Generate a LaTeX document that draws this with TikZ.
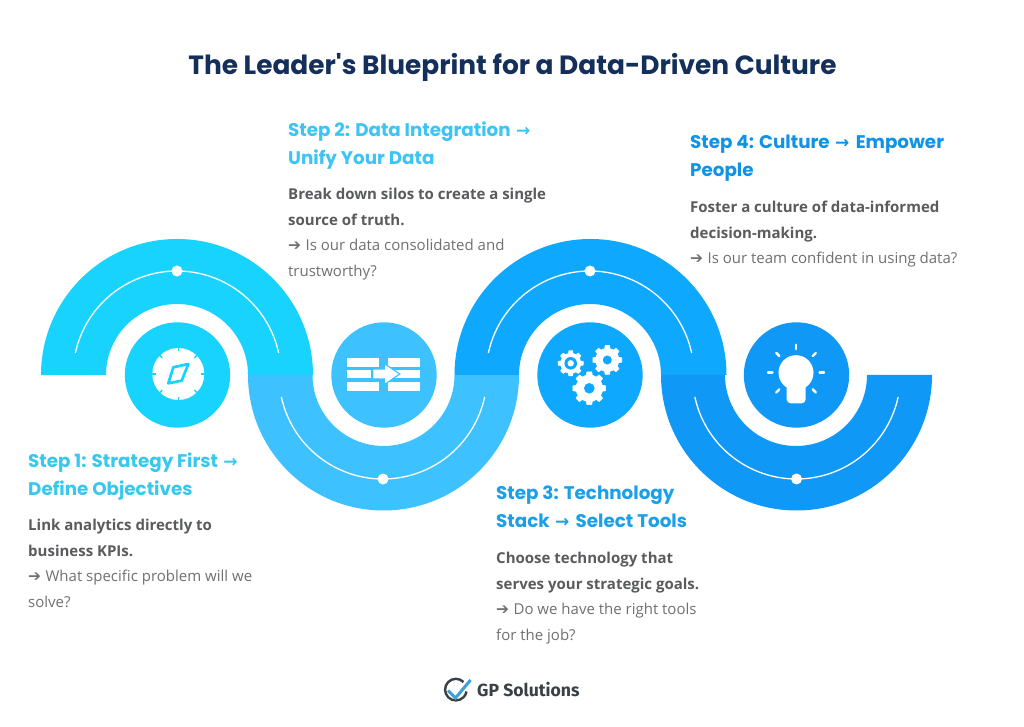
\documentclass[tikz,border=0pt]{standalone}
\usepackage{fontspec}
\setmainfont{Open Sans}
\newfontfamily\pop{Poppins}
\newfontfamily\djv{DejaVu Sans}
\newfontfamily\fira{Fira Sans}
\definecolor{cA}{HTML}{19D3FF}
\definecolor{cB}{HTML}{3DC2FF}
\definecolor{cC}{HTML}{0FA8FF}
\definecolor{cD}{HTML}{1098F7}
\definecolor{tA}{HTML}{38C8EE}
\definecolor{tB}{HTML}{3CC4F6}
\definecolor{tC}{HTML}{1A9FE8}
\definecolor{tD}{HTML}{0F93E6}
\definecolor{navy}{HTML}{14305A}
\definecolor{bodyb}{HTML}{5A5B5E}
\definecolor{bodyr}{HTML}{707072}
\definecolor{logod}{HTML}{3A4046}
\definecolor{logob}{HTML}{3F9FD8}
\newcommand{\tarrow}{\hspace{1.5pt}{\djv\fontsize{17}{15}\selectfont →}\hspace{2.5pt}}
\newcommand{\barrow}{{\djv\fontsize{15.5}{12}\selectfont ➔}\hspace{0.5pt}}
\newcommand{\gearshape}[3]{% x,y,outer radius
  \fill[white] (#1,#2) circle[radius=0.8*#3];
  \foreach \a in {0,45,...,315}{
    \fill[white,draw=white,line width=0.7pt,line join=round,shift={(#1,#2)},rotate=\a] (-0.2*#3,0.6*#3) -- (0.2*#3,0.6*#3) -- (0.14*#3,0.96*#3) -- (-0.14*#3,0.96*#3) -- cycle;
  }
}
\tikzset{
  x=1pt,y=1pt,
  steptitle/.style={anchor=north west,align=left,inner sep=0pt,font=\pop\bfseries\fontsize{18.3}{28}\selectfont},
  stepbody/.style={anchor=north west,align=left,inner sep=0pt,font=\fontsize{15}{25.5}\selectfont,text=bodyr},
  guide/.style={white,line width=1.3pt},
  dot/.style={fill=white},
}
\begin{document}
\begin{tikzpicture}
\useasboundingbox (0,0) rectangle (1024,727);
\fill[white] (0,0) rectangle (1024,727);
% ribbon
\fill[cA] (41,352) arc[start angle=180,end angle=0,radius=136] -- (248,352) arc[start angle=0,end angle=180,radius=71] -- cycle;
\fill[cB] (248,352) arc[start angle=180,end angle=360,radius=135.5] -- (454.5,352) arc[start angle=360,end angle=180,radius=71] -- cycle;
\fill[cC] (454.5,352) arc[start angle=180,end angle=0,radius=136] -- (661,352) arc[start angle=0,end angle=180,radius=71] -- cycle;
\fill[cD] (661,352) arc[start angle=180,end angle=360,radius=135.5] -- (867,352) arc[start angle=360,end angle=180,radius=71] -- cycle;
% guides
\draw[guide] (177,352) ++(167.8:104) arc[start angle=167.8,end angle=12.2,radius=104];
\draw[guide] (383,352) ++(192.2:104) arc[start angle=192.2,end angle=347.8,radius=104];
\draw[guide] (590,352) ++(167.8:104) arc[start angle=167.8,end angle=12.2,radius=104];
\draw[guide] (796.5,352) ++(192.2:104) arc[start angle=192.2,end angle=347.8,radius=104];
\fill[dot] (177,456) circle[radius=5.5];
\fill[dot] (383,248) circle[radius=5.5];
\fill[dot] (590,456) circle[radius=5.5];
\fill[dot] (796.5,248) circle[radius=5.5];
% discs
\fill[cA] (177.5,352) circle[radius=52.7];
\fill[cB] (384,352) circle[radius=52.7];
\fill[cC] (590,352) circle[radius=52.7];
\fill[cD] (796.5,352) circle[radius=52.7];
% icons, in the picture's pixel coordinates
\begin{scope}[shift={(0,727)},yscale=-1]
  % compass
  \fill[white] (178.3,374) circle[radius=26];
  \foreach \a in {0,45,...,315}{
    \draw[cA,line width=1.4pt] (178.3,374) ++(\a:22.7) -- ++(\a:4);
  }
  \draw[cA,line width=2.7pt,line join=round] (173.3,367.3) -- (188.3,364) -- (181.7,380.7) -- (168.3,383.3) -- cycle;
  % data merge
  \fill[white] (347.3,357.7) rectangle (379,366.7);
  \fill[white] (347.3,369.7) rectangle (370.7,378.3);
  \fill[white] (347.3,381.7) rectangle (379,390.7);
  \fill[white] (388.3,357.7) rectangle (420,366.7);
  \fill[white] (390,369.7) rectangle (420,378.3);
  \fill[white] (388.3,381.7) rectangle (420,390.7);
  \draw[cB,line width=2.6pt,line join=miter] (385,365) -- (398.5,374) -- (385,383.3);
  \fill[white] (373.3,369.7) -- (385,369.7) -- (385,365) -- (398.5,374) -- (385,383.3) -- (385,378.3) -- (373.3,378.3) -- cycle;
  % gears
  \gearshape{570.7}{363.3}{13}
  \fill[cC] (570.7,363.3) circle[radius=6.3];
  \fill[white] (570.7,363.3) circle[radius=3.2];
  \gearshape{607.3}{360}{15}
  \fill[cC] (607.3,360) circle[radius=4.5];
  \gearshape{589.3}{388.3}{17}
  \fill[cC] (589.3,388.3) circle[radius=5.3];
  % bulb
  \fill[white] (796,372.7) circle[radius=17.5];
  \fill[white,rounded corners=4pt] (786.7,380) rectangle (805.7,403.3);
  \foreach \a in {0,45,135,180,225,270,315}{
    \draw[white,line width=2.4pt,line cap=round] (796,372.7) ++(\a:23.5) -- ++(\a:4.5);
  }
  % logo
  \draw[logod,line width=2.4pt] (463.5,682) arc[start angle=-45,end angle=-350,radius=10.8];
  \draw[logob,line width=3pt,line join=miter] (448,690.5) -- (455.5,698) -- (470.5,680);
\end{scope}
% texts
\node[anchor=base,inner sep=0pt,text=navy,font=\pop\bfseries\fontsize{26.4}{30}\selectfont] (title) at (512.5,652) {The Leader's Blueprint for a Data-Driven Culture};
\node[steptitle,text=tA] (t1) at (28,274) {Step 1: Strategy First \tarrow\\Define Objectives};
\node[stepbody] (b1) at (28,208) {\textcolor{bodyb}{\bfseries Link analytics directly to}\\\textcolor{bodyb}{\bfseries business KPIs.}\\\barrow{} What specific problem will we\\solve?};
\node[steptitle,text=tB] (t2) at (288,605) {Step 2: Data Integration \tarrow\\Unify Your Data};
\node[stepbody] (b2) at (288,539) {\textcolor{bodyb}{\bfseries Break down silos to create a single}\\\textcolor{bodyb}{\bfseries source of truth.}\\\barrow{} Is our data consolidated and\\trustworthy?};
\node[steptitle,text=tC] (t3) at (496,241) {Step 3: Technology\\Stack \tarrow{} Select Tools};
\node[stepbody] (b3) at (496,175) {\textcolor{bodyb}{\bfseries Choose technology that}\\\textcolor{bodyb}{\bfseries serves your strategic goals.}\\\barrow{} Do we have the right tools\\for the job?};
\node[steptitle,text=tD] (t4) at (690,592) {Step 4: Culture \tarrow{} Empower\\People};
\node[stepbody] (b4) at (690,526) {\textcolor{bodyb}{\bfseries Foster a culture of data-informed}\\\textcolor{bodyb}{\bfseries decision-making.}\\\barrow{} Is our team confident in using data?};
\node[anchor=base west,inner sep=0pt,text=logod,font=\fira\bfseries\fontsize{17.6}{20}\selectfont] (logo) at (477,30.5) {GP Solutions};
\end{tikzpicture}
\end{document}
